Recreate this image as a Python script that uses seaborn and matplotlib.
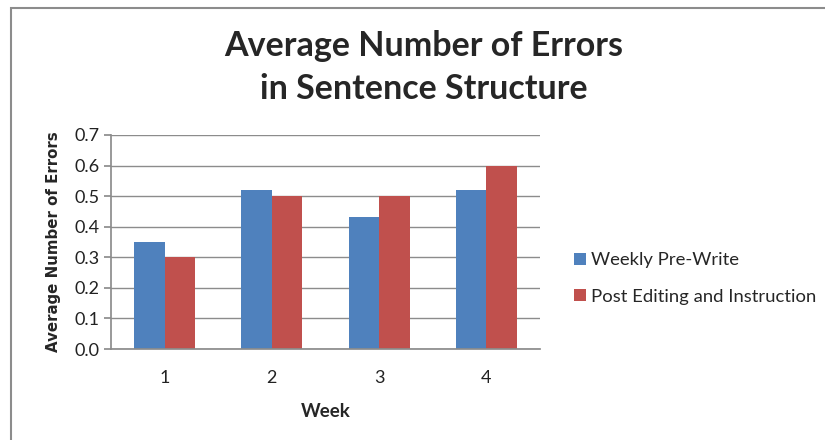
import matplotlib
matplotlib.use("Agg")
import matplotlib.pyplot as plt
import seaborn as sns
import pandas as pd
from matplotlib.patches import Rectangle

weeks = ["1", "2", "3", "4"]
series_names = ["Weekly Pre-Write", "Post Editing and Instruction"]
pre_write = [0.35, 0.52, 0.433, 0.52]
post_edit = [0.30, 0.50, 0.50, 0.60]
y_ticks = [0.0, 0.1, 0.2, 0.3, 0.4, 0.5, 0.6, 0.7]
colors = ["#4F81BD", "#C0504D"]

df = pd.DataFrame({
    "Week": weeks * 2,
    "Value": pre_write + post_edit,
    "Series": [series_names[0]] * 4 + [series_names[1]] * 4,
})

sns.set_theme(style="white")
plt.rcParams['font.family'] = ['Lato', 'DejaVu Sans']

fig = plt.figure(figsize=(8.25, 4.4), dpi=100)
ax = fig.add_axes([0.1345, 0.2068, 0.52, 0.4864])

sns.barplot(data=df, x="Week", y="Value", hue="Series", palette=colors,
            width=0.57, gap=0, ax=ax, saturation=1, edgecolor="none")

ax.set_ylim(0, 0.7)
ax.set_yticks(y_ticks)
ax.set_yticklabels([f"{t:.1f}" for t in y_ticks], fontsize=13, color="#222222")
ax.set_xticklabels(weeks, fontsize=13, color="#222222")
ax.yaxis.grid(True, color="#8c8c8c", linewidth=1)
ax.set_axisbelow(True)
for s in ["top", "right"]:
    ax.spines[s].set_visible(False)
ax.spines["left"].set_color("#8c8c8c")
ax.spines["bottom"].set_color("#8c8c8c")
ax.tick_params(axis="y", length=5, color="#8c8c8c", direction="out", left=True, pad=3)
ax.tick_params(axis="x", length=0, pad=15)

ax.set_xlabel("Week", fontsize=13.5, fontweight="bold", labelpad=12)
ax.set_ylabel("Average Number of Errors", fontsize=10.8, fontweight="bold",
              family="DejaVu Sans", labelpad=10)

leg = ax.legend(loc="center left", bbox_to_anchor=(1.04, 0.33), frameon=False,
                fontsize=13.3, handlelength=0.65, handleheight=0.65,
                handletextpad=0.3, labelspacing=1.1)

fig.text(0.514, 0.847, "Average Number of Errors\nin Sentence Structure",
         ha="center", va="center", fontsize=24.5, fontweight="bold",
         linespacing=1.42)

fig.patches.append(Rectangle((11 / 825, -0.1), 1.2, 1 - 8 / 440 + 0.1,
                             transform=fig.transFigure, fill=False,
                             edgecolor="#8c8c8c", linewidth=1.5))

fig.savefig("out.png", dpi=100)
